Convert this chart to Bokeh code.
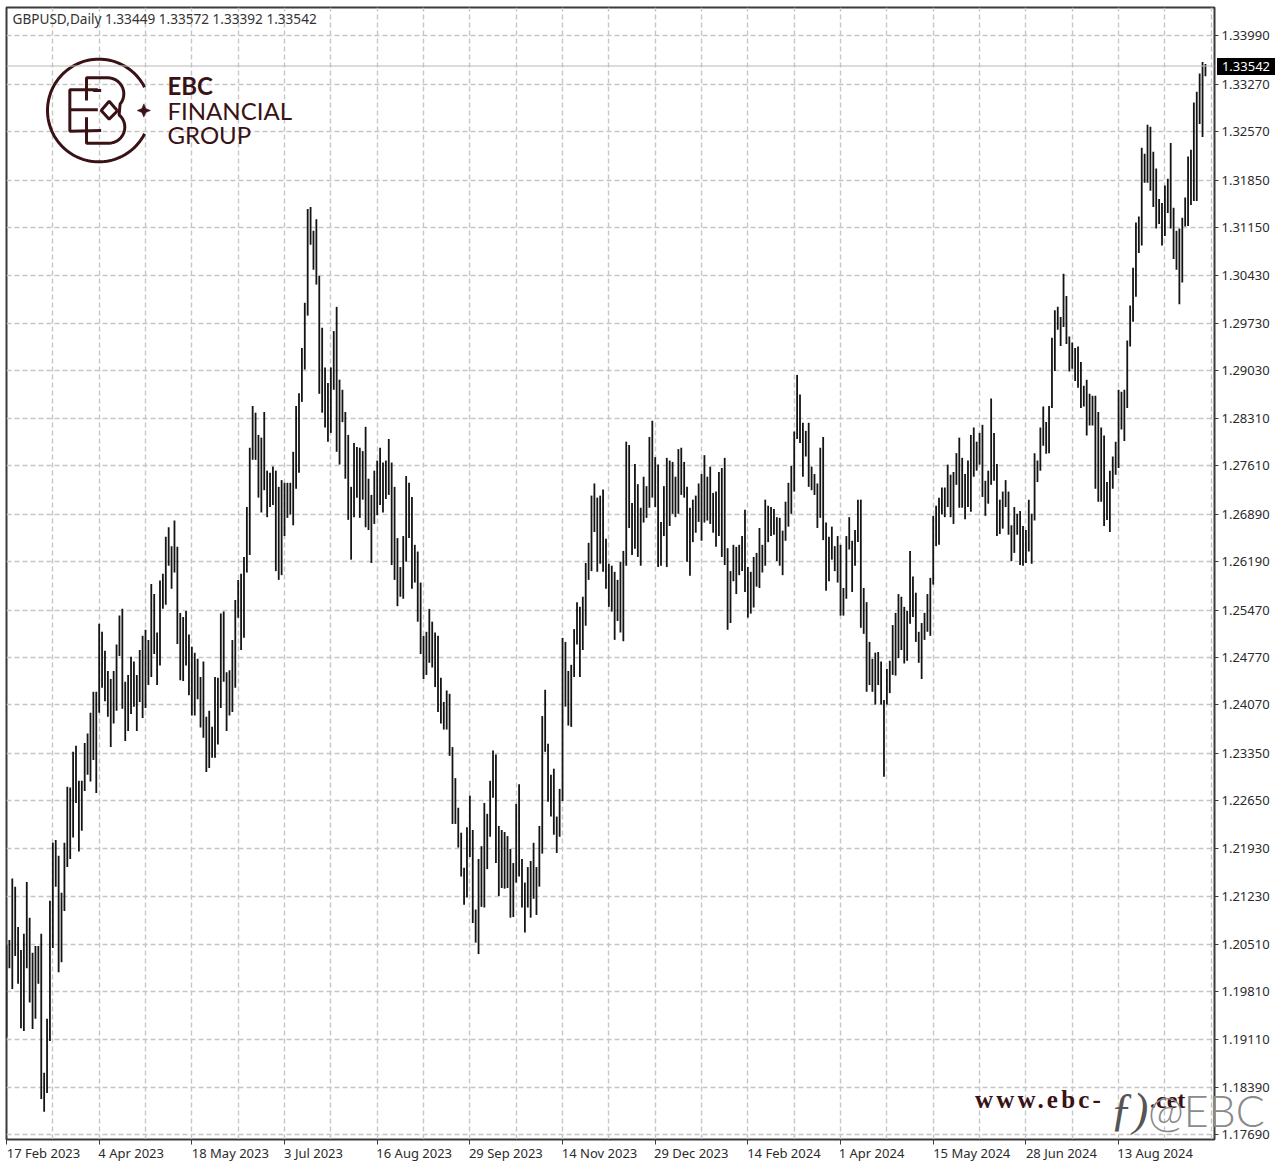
import math
from bokeh.plotting import figure
from bokeh.layouts import column
from bokeh.models import FixedTicker, Label, Span, PrintfTickFormatter, Range1d, Div
from bokeh.embed import file_html
from bokeh.resources import INLINE

SYMBOL = "GBPUSD,Daily"
OHLC_LAST = ["1.33449", "1.33572", "1.33392", "1.33542"]
LAST_PRICE = 1.33542
# high / low of every daily bar, in units of 0.0001
highs = [12052,12058,12149,12137,12077,12043,12067,12144,12091,12039,12049,12049,12067,11861,11941,12116,12202,12206,12183,12128,12202,12285,12284,12337,12346,12294,12294,12350,12364,12395,12426,12426,12527,12515,12487,12457,12445,12457,12496,12539,
12549,12441,12451,12478,12471,12451,12488,12509,12518,12503,12586,12571,12514,12591,12601,12656,12670,12642,12680,12641,12543,12537,12546,12511,12493,12484,12475,12448,12471,12389,12398,12374,12448,12447,12542,12545,12455,12458,12503,12562,
12592,12601,12626,12700,12788,12850,12840,12807,12803,12841,12754,12751,12760,12754,12730,12740,12736,12736,12736,12782,12850,12869,12936,13003,13142,13145,13110,13127,13043,12966,12907,12884,12907,12961,12997,12889,12874,12841,12807,12730,
12795,12789,12788,12783,12819,12742,12718,12754,12769,12788,12766,12769,12801,12766,12730,12654,12611,12657,12746,12736,12715,12644,12634,12588,12509,12515,12549,12530,12514,12509,12447,12411,12428,12423,12344,12298,12254,12217,12165,12225,
12272,12221,12103,12178,12197,12261,12245,12294,12339,12333,12227,12221,12218,12212,12193,12172,12260,12289,12178,12143,12166,12175,12202,12166,12227,12390,12429,12349,12303,12312,12241,12282,12506,12500,12457,12466,12519,12559,12552,12567,
12617,12647,12717,12735,12714,12717,12726,12653,12616,12613,12604,12592,12619,12635,12797,12792,12706,12764,12734,12699,12745,12731,12804,12828,12774,12763,12678,12731,12773,12769,12767,12745,12786,12788,12767,12730,12699,12711,12717,12735,
12749,12777,12745,12760,12721,12723,12752,12758,12773,12639,12605,12644,12641,12644,12657,12696,12611,12604,12626,12632,12669,12644,12711,12702,12700,12697,12685,12684,12665,12708,12736,12761,12812,12896,12867,12825,12813,12825,12760,12749,
12735,12788,12804,12677,12656,12671,12642,12657,12644,12580,12657,12685,12650,12666,12711,12711,12580,12559,12500,12475,12484,12485,12471,12414,12460,12472,12525,12543,12571,12567,12552,12546,12635,12597,12573,12515,12528,12543,12571,12595,
12687,12702,12714,12729,12729,12763,12748,12752,12780,12803,12773,12749,12769,12807,12818,12797,12810,12822,12739,12754,12861,12810,12764,12711,12723,12740,12723,12673,12700,12690,12694,12672,12666,12711,12690,12780,12769,12818,12849,12826,
12850,12951,12992,12997,12982,13046,13013,12953,12944,12936,12938,12915,12880,12889,12868,12865,12865,12841,12818,12806,12737,12754,12775,12797,12874,12871,12874,12947,12999,13055,13122,13131,13233,13224,13267,13264,13227,13202,13157,13151,
13177,13187,13240,13144,13110,13113,13129,13159,13220,13230,13300,13316,13343,13360,13357]
lows = [11914,12016,11985,12034,11993,11927,11923,12016,11965,11926,11941,11993,11822,11803,11831,11908,12046,12137,12010,12025,12101,12166,12178,12210,12261,12189,12220,12279,12303,12293,12325,12276,12395,12432,12412,12389,12344,12379,12398,12479,
12401,12353,12368,12393,12404,12368,12411,12387,12402,12436,12448,12482,12436,12465,12549,12555,12613,12579,12603,12497,12443,12442,12465,12421,12391,12391,12415,12373,12358,12307,12313,12328,12328,12348,12402,12441,12368,12391,12396,12432,
12536,12488,12506,12603,12629,12770,12770,12714,12692,12725,12685,12700,12703,12605,12592,12599,12657,12684,12689,12673,12727,12751,12856,12904,12984,13089,13052,13030,12868,12840,12818,12797,12810,12874,12782,12763,12826,12742,12681,12622,
12685,12714,12684,12711,12670,12666,12617,12675,12688,12703,12692,12712,12718,12614,12592,12553,12567,12564,12619,12654,12579,12588,12530,12482,12445,12451,12469,12462,12433,12396,12379,12370,12370,12331,12230,12230,12195,12152,12110,12121,
12181,12083,12054,12037,12107,12106,12163,12211,12269,12172,12123,12135,12134,12135,12091,12092,12143,12152,12106,12069,12106,12091,12119,12095,12137,12186,12337,12263,12241,12214,12187,12211,12264,12404,12376,12374,12448,12496,12448,12488,
12524,12592,12605,12663,12604,12616,12604,12579,12552,12545,12503,12531,12514,12501,12613,12669,12629,12638,12626,12613,12677,12684,12699,12714,12700,12611,12613,12657,12611,12672,12690,12685,12690,12718,12714,12619,12598,12648,12662,12678,
12650,12677,12680,12675,12662,12641,12657,12626,12614,12518,12528,12590,12571,12599,12605,12574,12536,12542,12551,12582,12580,12603,12613,12648,12657,12659,12620,12613,12599,12650,12671,12690,12723,12801,12795,12745,12775,12730,12725,12718,
12669,12684,12651,12576,12590,12622,12605,12588,12539,12539,12564,12637,12574,12613,12648,12521,12512,12426,12436,12426,12407,12436,12407,12300,12407,12424,12451,12450,12476,12488,12468,12472,12527,12537,12500,12469,12445,12503,12515,12509,
12585,12642,12644,12689,12685,12700,12685,12675,12733,12699,12699,12682,12700,12693,12745,12754,12763,12715,12687,12705,12733,12739,12657,12660,12668,12700,12659,12620,12632,12659,12614,12613,12617,12634,12616,12680,12737,12754,12791,12779,
12780,12847,12902,12963,12939,12967,12942,12901,12905,12887,12877,12847,12849,12806,12821,12821,12727,12708,12708,12672,12681,12663,12727,12748,12758,12815,12798,12847,12938,12975,13012,13077,13088,13181,13181,13169,13145,13113,13120,13088,
13102,13136,13113,13068,13052,13001,13033,13116,13117,13148,13154,13154,13268,13249,13339]
# price scale and time scale labels
price_ticks = [1.33990,1.33270,1.32570,1.31850,1.31150,1.30430,1.29730,1.29030,1.28310,1.27610,1.26890,1.26190,1.25470,1.24770,1.24070,1.23350,1.22650,1.21930,1.21230,1.20510,1.19810,1.19110,1.18390,1.17690]
date_labels = ["17 Feb 2023","4 Apr 2023","18 May 2023","3 Jul 2023","16 Aug 2023","29 Sep 2023","14 Nov 2023","29 Dec 2023","14 Feb 2024","1 Apr 2024","15 May 2024","28 Jun 2024","13 Aug 2024"]
BARS_PER_LABEL = 32
label_half_px = [37, 32, 38.5, 29, 37, 36, 37, 36, 36, 31, 38.5, 35.5, 36.5]

W, H = 1280, 1167
FL, FR, FT, FB = 6, 1214, 7, 1139     # plot frame in the reference picture
BAR_PX = 2.896                        # bar spacing
PX_PER_PRICE = 6742.0                 # vertical scale
Y0_PX, Y0_PRICE = 35.3, 1.33990

def X(px):
    return (px - FL) / BAR_PX
def Y(py):
    return Y0_PRICE - (py - Y0_PX) / PX_PER_PRICE

p = figure(width=W, height=H, output_backend="svg", toolbar_location=None,
           x_range=Range1d(X(FL), X(FR)), y_range=Range1d(Y(FB), Y(FT)),
           y_axis_location="right",
           min_border_left=FL, min_border_right=W-FR, min_border_top=FT, min_border_bottom=H-FB,
           background_fill_color="white", border_fill_color="white")

BORDER = "#3a3a3a"
TEXT = "#2b2b2b"
FONT = "Noto Sans"
p.outline_line_color = BORDER
p.outline_line_width = 2

# axes: minor ticks mark the dates, the labels sit to the right of their marks
xt = [i * BARS_PER_LABEL for i in range(len(date_labels))]
label_pos = [t + h / BAR_PX for t, h in zip(xt, label_half_px)]
p.xaxis.ticker = FixedTicker(ticks=label_pos, minor_ticks=xt)
p.xaxis.major_label_overrides = dict(zip(label_pos, date_labels))
p.xaxis.major_label_text_font = FONT
p.xaxis.major_label_text_font_size = "13px"
p.xaxis.major_label_text_color = TEXT
p.xaxis.major_label_standoff = -1
p.xaxis.axis_line_color = BORDER
p.xaxis.major_tick_line_color = None
p.xaxis.major_tick_out = 0
p.xaxis.major_tick_in = 0
p.xaxis.minor_tick_line_color = BORDER
p.xaxis.minor_tick_out = 5
p.xaxis.minor_tick_in = 0

p.yaxis.ticker = FixedTicker(ticks=price_ticks)
p.yaxis.formatter = PrintfTickFormatter(format="%.5f")
p.yaxis.major_label_text_font = FONT
p.yaxis.major_label_text_font_size = "13px"
p.yaxis.major_label_text_color = TEXT
p.yaxis.major_label_standoff = 3
p.yaxis.axis_line_color = BORDER
p.yaxis.major_tick_line_color = BORDER
p.yaxis.major_tick_out = 4
p.yaxis.major_tick_in = 0
p.yaxis.minor_tick_line_color = None

# grid
p.xgrid.ticker = FixedTicker(ticks=[i * BARS_PER_LABEL // 2 for i in range(0, 27)])
p.ygrid.ticker = FixedTicker(ticks=price_ticks)
for g in (p.xgrid, p.ygrid):
    g.grid_line_color = "#c6c6c6"
    g.grid_line_dash = "5 3"
    g.grid_line_width = 1.4

# current price line
p.add_layout(Span(location=LAST_PRICE, dimension="width", line_color="#b9b9b9", line_width=1))

# bars
xs = list(range(len(highs)))
p.segment(x0=xs, x1=xs, y0=[v / 10000 for v in highs], y1=[v / 10000 for v in lows],
          line_color="#141414", line_width=1.8)

# header text
p.add_layout(Label(x=X(12), y=Y(18), text=SYMBOL + "  " + " ".join(OHLC_LAST), text_font=FONT,
                   text_font_size="13.6px", text_color="#333333", text_align="left", text_baseline="middle"))

# brand logo (drawn in page pixels)
BRAND = "#3a1216"
def Z(pts):  # logo sketch coordinates: page pixels x 3
    return [X(a / 3) for a, b in pts], [Y(b / 3) for a, b in pts]
def arc(cx, cy, r, a0, a1, step):
    return [(cx + r * math.cos(math.radians(t)), cy - r * math.sin(math.radians(t))) for t in range(a0, a1, step)]

logo_paths = [
    arc(295, 330, 154, 27, 334, 3),
    [(292, 268), (208, 268), (208, 392), (302, 390)],
    [(208, 328), (292, 328)],
    [(258, 300), (258, 232)] + arc(322, 280, 48, 90, -50, -10) + arc(325, 380, 48, 50, -100, -10) + [(258, 428), (258, 350)],
    [(278, 270), (302, 270)],
    [(350, 330), (326, 302), (302, 330), (326, 356), (352, 330)],
]
lx, ly = zip(*[Z(path) for path in logo_paths])
p.multi_line(xs=list(lx), ys=list(ly), line_color=BRAND, line_width=3)
sx, sy = Z([(430, 310), (436, 324), (450, 330), (436, 336), (430, 350), (424, 336), (410, 330), (424, 324)])
p.patch(sx, sy, fill_color=BRAND, line_color=BRAND, line_width=0.5)

for txt, px_, py_, size, style in [("EBC", 167, 85, "24px", "bold"), ("FINANCIAL", 167, 110, "24px", "normal"), ("GROUP", 167, 134, "24px", "normal")]:
    p.add_layout(Label(x=X(px_), y=Y(py_), text=txt, text_font="Lato", text_font_size=size, text_font_style=style,
                       text_color=BRAND, text_align="left", text_baseline="middle"))

# texts that lie over the frame edge are placed as page elements
def over(text, left, top, width, height, **css):
    base = {"position": "absolute", "left": f"{left}px", "top": f"{top}px", "z-index": "5", "white-space": "nowrap", "line-height": f"{height}px"}
    base.update(css)
    return Div(text=text, width=width, height=height, margin=0, styles=base)

overlays = [
    over(f"{LAST_PRICE:.5f}", 1217, 58, 58, 17, color="white", background="#000000", **{"font-family": FONT, "font-size": "13px", "text-align": "center"}),
    over("www.ebc-", 975, 1086, 135, 28, color=BRAND, **{"font-family": "Liberation Serif", "font-size": "25px", "font-weight": "bold", "letter-spacing": "3.2px"}),
    over(".cet", 1150, 1086, 50, 28, color=BRAND, **{"font-family": "Liberation Serif", "font-size": "24px", "font-weight": "bold"}),
    over("ƒ)", 1110, 1083, 44, 54, color="#555555", **{"font-family": "Liberation Serif", "font-size": "46px", "font-style": "italic"}),
    over("@EBC", 1148, 1086, 130, 50, color="#8a8a8a", **{"font-family": "Lato", "font-size": "43px", "font-weight": "300"}),
]

page = column(p, *overlays, spacing=0, margin=0)
open("out.html", "w").write(file_html(page, INLINE))
